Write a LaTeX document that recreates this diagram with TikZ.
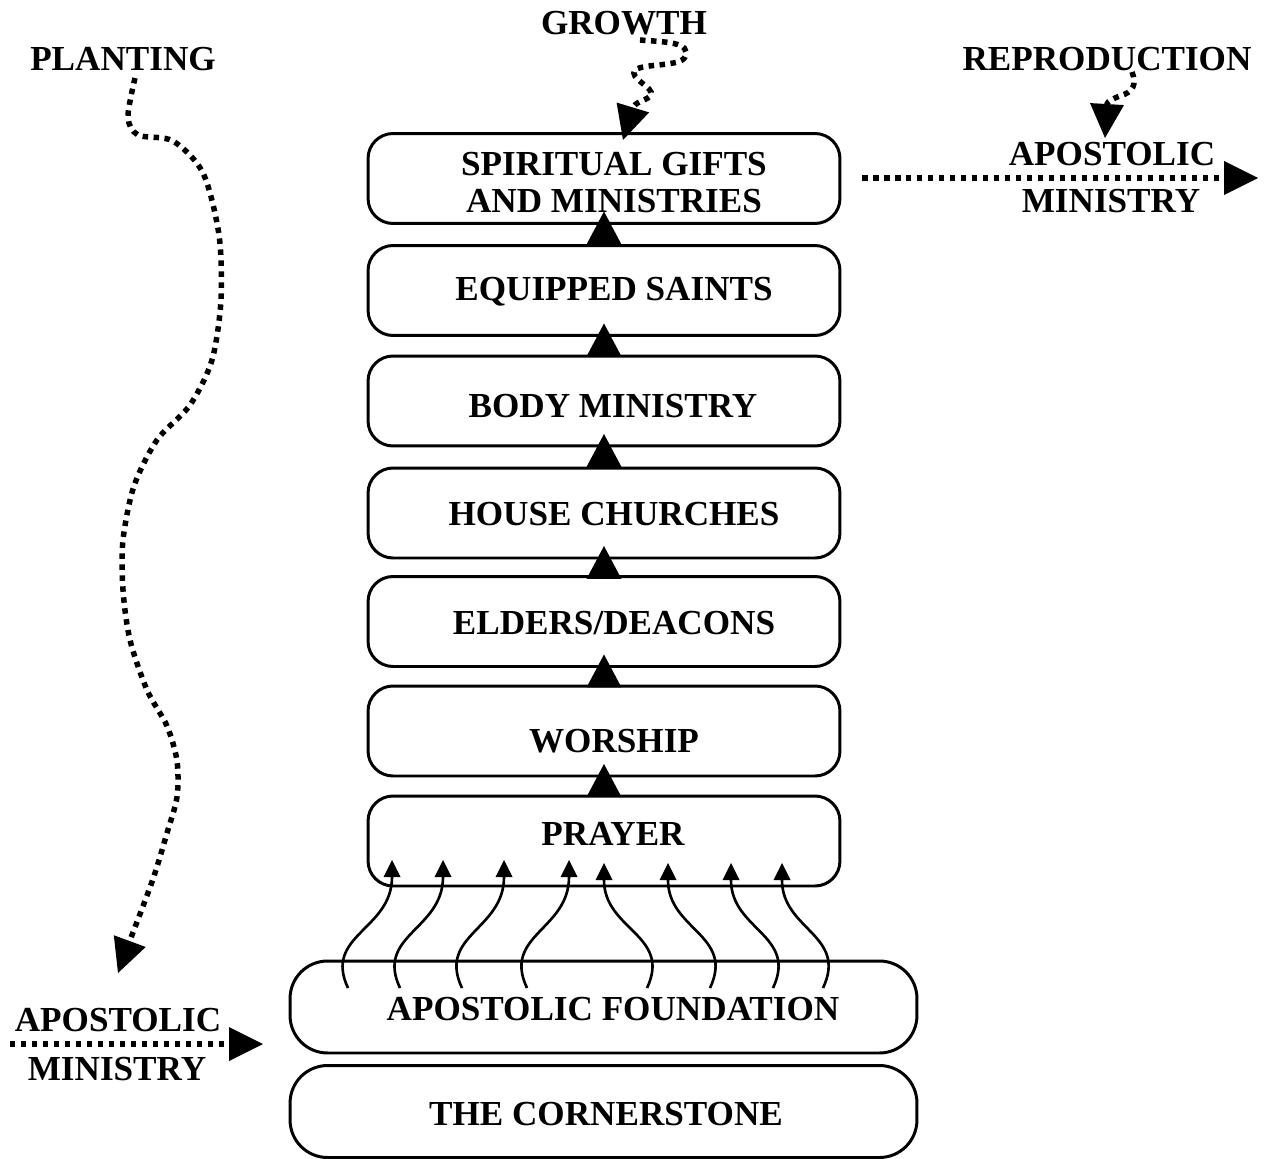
\documentclass[tikz,border=0pt]{standalone}
\usepackage{fontspec}
\setmainfont{Liberation Serif}
\usetikzlibrary{arrows.meta}
\begin{document}
\begin{tikzpicture}[x=0.02cm,y=-0.02cm,
  lbl/.style={font=\bfseries\fontsize{20}{24}\selectfont, inner sep=0pt, anchor=base},
  stage/.style={draw, line width=1.7pt, rounded corners=0.5cm, minimum width=9.44cm, minimum height=1.8cm, inner sep=0pt, outer sep=0pt},
  basebox/.style={draw, line width=1.7pt, rounded corners=0.75cm, minimum width=12.54cm, minimum height=1.84cm, inner sep=0pt, outer sep=0pt},
  uptri/.style={line width=1.5pt, -{Triangle[length=0.66cm,width=0.7cm,line width=0pt]}},
  rise/.style={line width=1.5pt, -{Triangle[length=0.34cm,width=0.34cm,line width=0pt]}},
  dotline/.style={line width=0.11cm, dash pattern=on 0.11cm off 0.11cm, -{Triangle[length=0.68cm,width=0.68cm,line width=0pt]}},
]
\useasboundingbox (0,0) rectangle (1272,1159);

% boxes
\node[stage] (gifts) at (604,178.5) {};
\node[stage] (saints) at (604,290.5) {};
\node[stage] (body) at (604,401) {};
\node[stage] (house) at (604,513) {};
\node[stage] (elders) at (604,621.5) {};
\node[stage] (worship) at (604,731) {};
\node[stage] (prayer) at (604,841) {};
\node[basebox] (found) at (603.5,1007) {};
\node[basebox] (corner) at (603.5,1111.5) {};

% box texts
\node[lbl] (tgifts1) at (614,175) {SPIRITUAL GIFTS};
\node[lbl] (tgifts2) at (614,213) {AND MINISTRIES};
\node[lbl] (tsaints) at (614,300) {EQUIPPED SAINTS};
\node[lbl] (tbody) at (613,417) {BODY MINISTRY};
\node[lbl] (thouse) at (614,525) {HOUSE CHURCHES};
\node[lbl] (telders) at (614,634) {ELDERS/DEACONS};
\node[lbl] (tworship) at (614,752) {WORSHIP};
\node[lbl] (tprayer) at (613,845) {PRAYER};
\node[lbl] (tfound) at (613,1020) {APOSTOLIC FOUNDATION};
\node[lbl] (tcorner) at (606,1125) {THE CORNERSTONE};

% outside labels
\node[lbl] (growth) at (624,35) {GROWTH};
\node[lbl] (planting) at (123,71) {PLANTING};
\node[lbl] (repro) at (1107,71) {REPRODUCTION};
\node[lbl] (rap1) at (1112,166) {APOSTOLIC};
\node[lbl] (rap2) at (1111,213) {MINISTRY};
\node[lbl] (lap1) at (118,1031) {APOSTOLIC};
\node[lbl] (lap2) at (117,1080) {MINISTRY};

% triangles between stages
\foreach \lo/\hi in {saints/gifts, body/saints, house/body, elders/house, worship/elders, prayer/worship}
  \draw[uptri] (\lo.north) -- ([yshift=0.24cm]\hi.south);

% rising arrows from foundation to prayer
\foreach \sx/\tx in {348/392, 400/443, 462/504, 527/569}
  \draw[rise] (\sx,988) .. controls (\sx-25,935) and (\tx,930) .. (\tx,860);
\foreach \sx/\tx in {647/604, 710/668, 773/731, 823/782}
  \draw[rise] (\sx,988) .. controls (\sx+25,935) and (\tx,930) .. (\tx,863);

% dotted arrows
\coordinate (gs) at (640,40);
\coordinate (gt) at (623,140);
\draw[dotline] (gs) .. controls (665,42) and (692,42) .. (685,57)
  .. controls (680,67) and (645,63) .. (635,70)
  .. controls (628,78) and (655,88) .. (651,95)
  .. controls (648,100) and (637,101) .. (633,107) -- (gt);

\coordinate (rps) at (1132,72);
\coordinate (rpt) at (1105,138);
\draw[dotline] (rps) .. controls (1137,85) and (1133,92) .. (1120,96)
  .. controls (1112,99) and (1108,101) .. (1107,104) -- (rpt);

\coordinate (ps) at (135,78);
\coordinate (pt) at (118,973);
\draw[dotline] plot[smooth] coordinates {(ps) (128,117) (138,135) (173,141) (203,173) (219,235) (221,300) (212,360) (190,405) (157,440) (134,486) (123,540) (123,590) (130,640) (147,690) (167,726) (177,761) (177,797) (167,833) (153,879) (132,935)} -- (pt);

\coordinate (ras) at (862,178);
\coordinate (rae) at (1258,178);
\draw[dotline] (ras) -- (rae);

\coordinate (las) at (10,1044);
\coordinate (lae) at (263,1044);
\draw[dotline] (las) -- (lae);
\end{tikzpicture}
\end{document}
